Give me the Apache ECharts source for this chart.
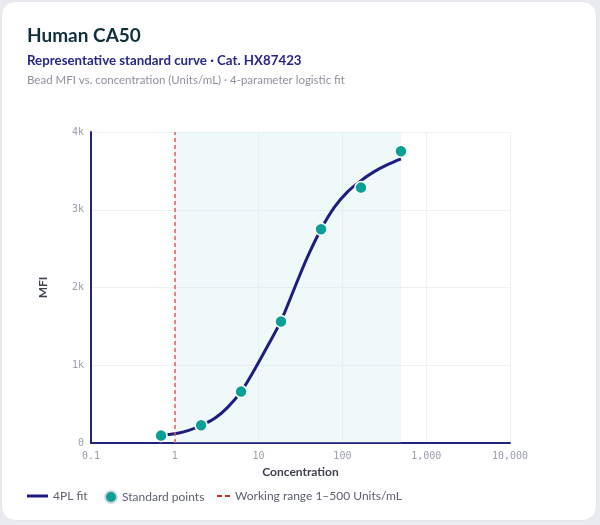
<!DOCTYPE html>
<html>
<head>
    <meta charset="utf-8">
    <title>Human CA50 standard curve</title>
    <style>
        html, body { margin: 0; padding: 0; background: #e9ebf0; }
        #card {
            position: absolute; left: 1px; top: 1px; width: 596px; height: 520px;
            background: #fff; border-radius: 14px; box-sizing: border-box;
            border: 1px solid #e3e6ec; overflow: hidden;
        }
        #container { width: 596px; height: 520px; }
    </style>
</head>
<body>
<div id="card"><div id="container"></div></div>
<script src="https://cdn.jsdelivr.net/npm/echarts@6/dist/echarts.min.js"></script>
<script type="text/javascript">
    // standard points (Units/mL, MFI)
    var stdConc = [0.686, 2.06, 6.17, 18.5, 55.6, 166.7, 500];
    var stdMfi = [95, 228, 661, 1562, 2750, 3285, 3752];

    // 4PL fit curve
    var fitConc = [0.686, 1, 1.47, 2.06, 3, 4.3, 6.17, 9, 13, 18.5, 27, 38, 55.6, 80, 115, 166.7, 240, 345, 500];
    var fitMfi = [100, 118, 163, 225, 318, 462, 660, 950, 1260, 1570, 2000, 2385, 2750, 3030, 3230, 3375, 3490, 3580, 3655];

    var rangeLow = 1, rangeHigh = 500;
    var yTicks = ['0', '1k', '2k', '3k', '4k'];

    var pair = function (xs, ys) { return xs.map(function (x, i) { return [x, ys[i]]; }); };

    var myChart = echarts.init(document.getElementById('container'));
    var sans = 'Lato, "Noto Sans", sans-serif';
    var mono = '"DejaVu Sans Mono", monospace';
    var legendText = {fontFamily: sans, fontSize: 12, color: '#5d6270'};

    var option = {
        animation: false,
        title: [
            {text: 'Human CA50', left: 20, top: 19,
                textStyle: {fontFamily: sans, fontSize: 19, fontWeight: 'bold', color: '#10303b'}},
            {text: 'Representative standard curve · Cat. HX87423', left: 20, top: 47,
                textStyle: {fontFamily: sans, fontSize: 13.3, fontWeight: 'bold', color: '#27278a'}},
            {text: 'Bead MFI vs. concentration (Units/mL) · 4-parameter logistic fit', left: 20, top: 67,
                textStyle: {fontFamily: sans, fontSize: 11.5, fontWeight: 'normal', color: '#8d929c'}}
        ],
        // one legend per entry so each icon can have its own width
        legend: [
            {left: 25, top: 488, padding: 0, itemWidth: 21, itemHeight: 11, textStyle: legendText,
                data: [{name: '4PL fit', icon: 'path://M0,0H21V3H0Z'}]},
            {left: 102, top: 488, padding: 0, itemWidth: 12, itemHeight: 12, textStyle: legendText,
                data: [{name: 'Standard points', icon: 'circle',
                    itemStyle: {borderColor: '#d3d7df', borderWidth: 2}}]},
            {left: 215, top: 488, padding: 0, itemWidth: 13, itemHeight: 11, textStyle: legendText,
                data: [{name: 'Working range 1–500 Units/mL', icon: 'path://M0,0H5V2H0Z M8,0H13V2H8Z'}]}
        ],
        grid: {left: 89, top: 130, width: 419, height: 311},
        xAxis: {
            type: 'log', logBase: 10, min: 0.1, max: 10000,
            name: 'Concentration', nameLocation: 'middle', nameGap: 22,
            nameTextStyle: {fontFamily: sans, fontSize: 12, fontWeight: 'bold', color: '#3e4350'},
            axisLine: {lineStyle: {color: '#22227f', width: 2}},
            axisTick: {show: false},
            axisLabel: {
                fontFamily: mono, fontSize: 10, color: '#9a9fae', margin: 8,
                formatter: function (v) {
                    return v < 1 ? String(+v.toPrecision(1)) : Math.round(v).toLocaleString('en-US');
                }
            },
            splitLine: {show: true, lineStyle: {color: '#eef0f5'}}
        },
        yAxis: {
            type: 'value', min: 0, max: 4000, interval: 1000,
            name: 'MFI', nameLocation: 'middle', nameGap: 42,
            nameTextStyle: {fontFamily: sans, fontSize: 12, fontWeight: 'bold', color: '#3e4350'},
            axisLine: {show: true, lineStyle: {color: '#22227f', width: 2}},
            axisTick: {show: false},
            axisLabel: {
                fontFamily: mono, fontSize: 10, color: '#9a9fae', margin: 7,
                formatter: function (v) { return yTicks[Math.round(v / 1000)]; }
            },
            splitLine: {lineStyle: {color: '#eef0f5'}}
        },
        series: [
            {
                name: 'range band',
                type: 'line',
                data: [],
                markArea: {
                    silent: true,
                    itemStyle: {color: 'rgba(190,230,232,0.25)'},
                    data: [[{xAxis: rangeLow}, {xAxis: rangeHigh}]]
                },
                z: 0
            },
            {
                name: 'Working range 1–500 Units/mL',
                type: 'line',
                data: [],
                symbol: 'none',
                color: '#e3242b',
                lineStyle: {type: 'dashed', width: 2, color: '#e3242b'},
                markLine: {
                    silent: true, symbol: 'none', label: {show: false},
                    lineStyle: {type: [4, 3], width: 1.5, color: '#e35d5d', opacity: 1},
                    data: [{xAxis: rangeLow}]
                },
                z: 2
            },
            {
                name: '4PL fit',
                type: 'line',
                data: pair(fitConc, fitMfi),
                smooth: 0.3,
                symbol: 'none',
                color: '#1e1e82',
                lineStyle: {width: 3, color: '#1e1e82'},
                z: 3
            },
            {
                name: 'Standard points',
                type: 'scatter',
                data: pair(stdConc, stdMfi),
                symbolSize: 12,
                color: '#0ba096',
                itemStyle: {color: '#0ba096', borderColor: '#fff', borderWidth: 1.5, opacity: 1},
                z: 4
            }
        ]
    };

    if (option && typeof option === 'object') {
        myChart.setOption(option, true);
    }
</script>
</body>
</html>
